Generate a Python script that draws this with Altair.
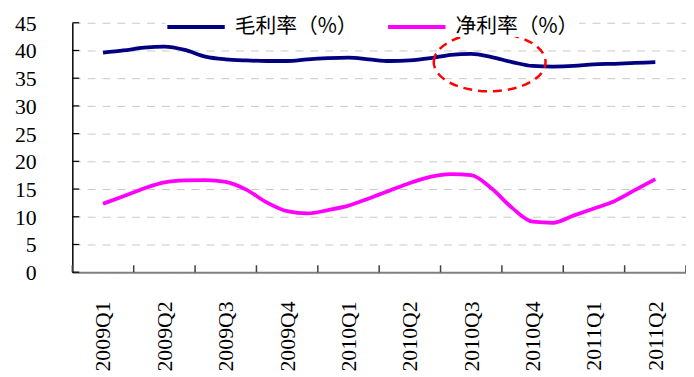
import altair as alt
import pandas as pd

# ---------------- data ----------------
quarters = ["2009Q1", "2009Q2", "2009Q3", "2009Q4", "2010Q1",
            "2010Q2", "2010Q3", "2010Q4", "2011Q1", "2011Q2"]
# monthly index (0 = 2009Q1 label position, 3 months per quarter)
months = list(range(28))
gross_margin = [39.6, 40.0, 40.5, 40.7, 40.1, 38.9, 38.4, 38.2, 38.1, 38.1,
                38.4, 38.6, 38.7, 38.4, 38.1, 38.2, 38.6, 39.2, 39.4, 38.8,
                37.9, 37.2, 37.1, 37.2, 37.5, 37.6, 37.75, 37.9]
net_margin = [12.35, 13.7, 15.1, 16.2, 16.55, 16.6, 16.3, 14.9, 12.6, 11.0,
              10.6, 11.2, 12.0, 13.3, 14.7, 16.1, 17.2, 17.7, 17.5, 15.1,
              11.6, 9.1, 8.9, 10.2, 11.5, 12.8, 14.8, 16.8]
series_names = ["毛利率（%）", "净利率（%）"]
series_colors = ["#000080", "#FF00FF"]
y_ticks = [0, 5, 10, 15, 20, 25, 30, 35, 40, 45]
label_positions = [0, 3, 6, 9, 12, 15, 18, 21, 24, 27]
quarter_bounds = [-1.5, 1.5, 4.5, 7.5, 10.5, 13.5, 16.5, 19.5, 22.5, 25.5, 28.5]
highlight_t = [18.9]
highlight_v = [37.9]

# ---------------- chart ----------------
df = pd.DataFrame({
    "t": months + months,
    "v": gross_margin + net_margin,
    "s": [series_names[0]] * len(months) + [series_names[1]] * len(months),
})

W, H = 620, 252
xscale = alt.Scale(domain=[-1.5, 28.5], nice=False, zero=False)
yscale = alt.Scale(domain=[0, 45], nice=False, zero=True)

label_expr = "[" + ",".join("'%s'" % q for q in quarters) + "][round(datum.value/3)]"

x_axis = alt.Axis(values=label_positions, labelExpr=label_expr, title=None)
y_axis = alt.Axis(values=y_ticks, title=None, labels=False)

lines = alt.Chart(df).mark_line(strokeWidth=3.8, interpolate="monotone").encode(
    x=alt.X("t:Q", scale=xscale, axis=x_axis),
    y=alt.Y("v:Q", scale=yscale, axis=y_axis),
    color=alt.Color("s:N", sort=series_names,
                    scale=alt.Scale(domain=series_names, range=series_colors),
                    legend=alt.Legend(
                        title=None, orient="none", legendX=94, legendY=-7.7,
                        direction="horizontal", symbolType="M-1,0H4.8",
                        symbolSize=400, symbolStrokeWidth=4,
                        labelFont="Noto Sans CJK SC", labelFontSize=21,
                        labelColor="#000000", labelOffset=46, columnPadding=22,
                        padding=0, fillColor="white", labelLimit=400)),
)

x_ticks = alt.Chart(pd.DataFrame({"t": quarter_bounds})).mark_rule(
    color="#404040", strokeWidth=1.5).encode(
    x=alt.X("t:Q", scale=xscale, axis=x_axis),
    y=alt.value(H - 7), y2=alt.value(H))

y_frame = pd.DataFrame({"v": y_ticks})
y_tick_marks = alt.Chart(y_frame).mark_rule(
    color="#000000", strokeWidth=1.2).encode(
    y=alt.Y("v:Q", scale=yscale, axis=y_axis),
    x=alt.value(0), x2=alt.value(7))

y_labels = alt.Chart(y_frame).mark_text(
    align="right", baseline="middle", font="Liberation Serif",
    fontSize=22, color="#000000", dx=-36, dy=1).encode(
    y=alt.Y("v:Q", scale=yscale, axis=y_axis),
    x=alt.value(0),
    text=alt.Text("v:Q"))

k = 0.5523
ry = 0.522
ellipse_path = (
    f"M-1,0 C-1,{-ry*k:.4f} {-k},{-ry} 0,{-ry} "
    f"C{k},{-ry} 1,{-ry*k:.4f} 1,0 "
    f"C1,{ry*k:.4f} {k},{ry} 0,{ry} "
    f"C{-k},{ry} -1,{ry*k:.4f} -1,0 Z"
)
ellipse = alt.Chart(pd.DataFrame({"t": highlight_t, "v": highlight_v})).mark_point(
    shape=ellipse_path, size=12769, filled=False, stroke="#FF0000",
    strokeWidth=2.5, strokeDash=[9, 6], opacity=1).encode(
    x=alt.X("t:Q", scale=xscale, axis=x_axis),
    y=alt.Y("v:Q", scale=yscale, axis=y_axis))

chart = alt.layer(lines, x_ticks, y_tick_marks, y_labels, ellipse).properties(
    width=W, height=H,
    padding={"left": 65, "top": 13, "right": 0, "bottom": 104},
    autosize=alt.AutoSizeParams(type="none"),
    background="white",
).configure_view(
    stroke=None
).configure_axisX(
    ticks=False, tickSize=0, grid=False,
    domainColor="#808080", domainWidth=2,
    labelAngle=270, labelAlign="right", labelBaseline="middle",
    labelPadding=29, labelFont="Liberation Serif", labelFontSize=22,
    labelColor="#000000", labelFlush=False, labelOverlap=False, labelBound=False
).configure_axisY(
    ticks=False, tickSize=0, labels=False,
    grid=True, gridColor="#C8C8C8", gridDash=[8, 7], gridWidth=1,
    domainColor="#000000", domainWidth=1.5
)

chart.save("out.html", embed_options={"renderer": "svg", "actions": False})
